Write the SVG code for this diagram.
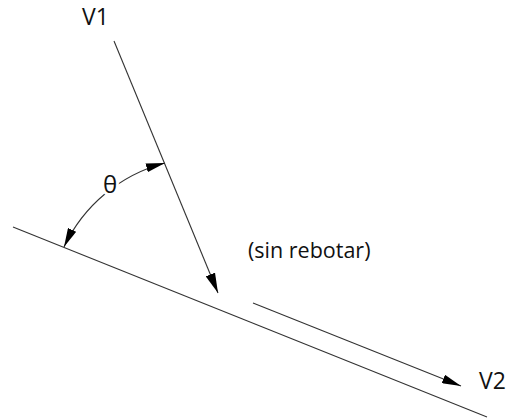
<svg xmlns="http://www.w3.org/2000/svg" width="509" height="419" viewBox="0 0 509 419">
<style>
.ln{stroke:#333;stroke-width:1.1;fill:none}
.t{font-family:"Open Sans","Liberation Sans",sans-serif;fill:#111}
</style>
<defs>
<marker id="ah" markerUnits="userSpaceOnUse" markerWidth="21" markerHeight="11" viewBox="0 0 21 10" refX="20" refY="5" orient="auto-start-reverse">
<path d="M0,0 L20,5 L0,10 z" fill="#000"/>
</marker>
<marker id="ah2" markerUnits="userSpaceOnUse" markerWidth="20" markerHeight="9" viewBox="0 0 20 9" refX="19" refY="4.5" orient="auto-start-reverse">
<path d="M0,0 L19,4.5 L0,9 z" fill="#000"/>
</marker>
</defs>
<rect width="509" height="419" fill="#fff"/>
<g id="connectors">
<line id="surface" class="ln" x1="13" y1="227" x2="487" y2="417"/>
<line id="v1-arrow" class="ln" x1="114" y1="41" x2="218" y2="293" marker-end="url(#ah)"/>
<line id="v2-arrow" class="ln" x1="253" y1="303" x2="461" y2="386" marker-end="url(#ah2)"/>
<path id="angle-arc" class="ln" d="M165,163 A155,155 0 0 0 64,247" marker-start="url(#ah2)" marker-end="url(#ah2)"/>
</g>
<g id="label-v1"><text class="t" x="82" y="25" font-size="23">V1</text></g>
<g id="label-v2"><text class="t" x="479" y="389" font-size="23">V2</text></g>
<g id="label-theta"><text class="t" x="110" y="193" font-size="24" text-anchor="middle" stroke="#fff" stroke-width="6" paint-order="stroke">θ</text></g>
<g id="label-sin"><text class="t" x="248" y="258" font-size="21.5">(sin rebotar)</text></g>
</svg>
